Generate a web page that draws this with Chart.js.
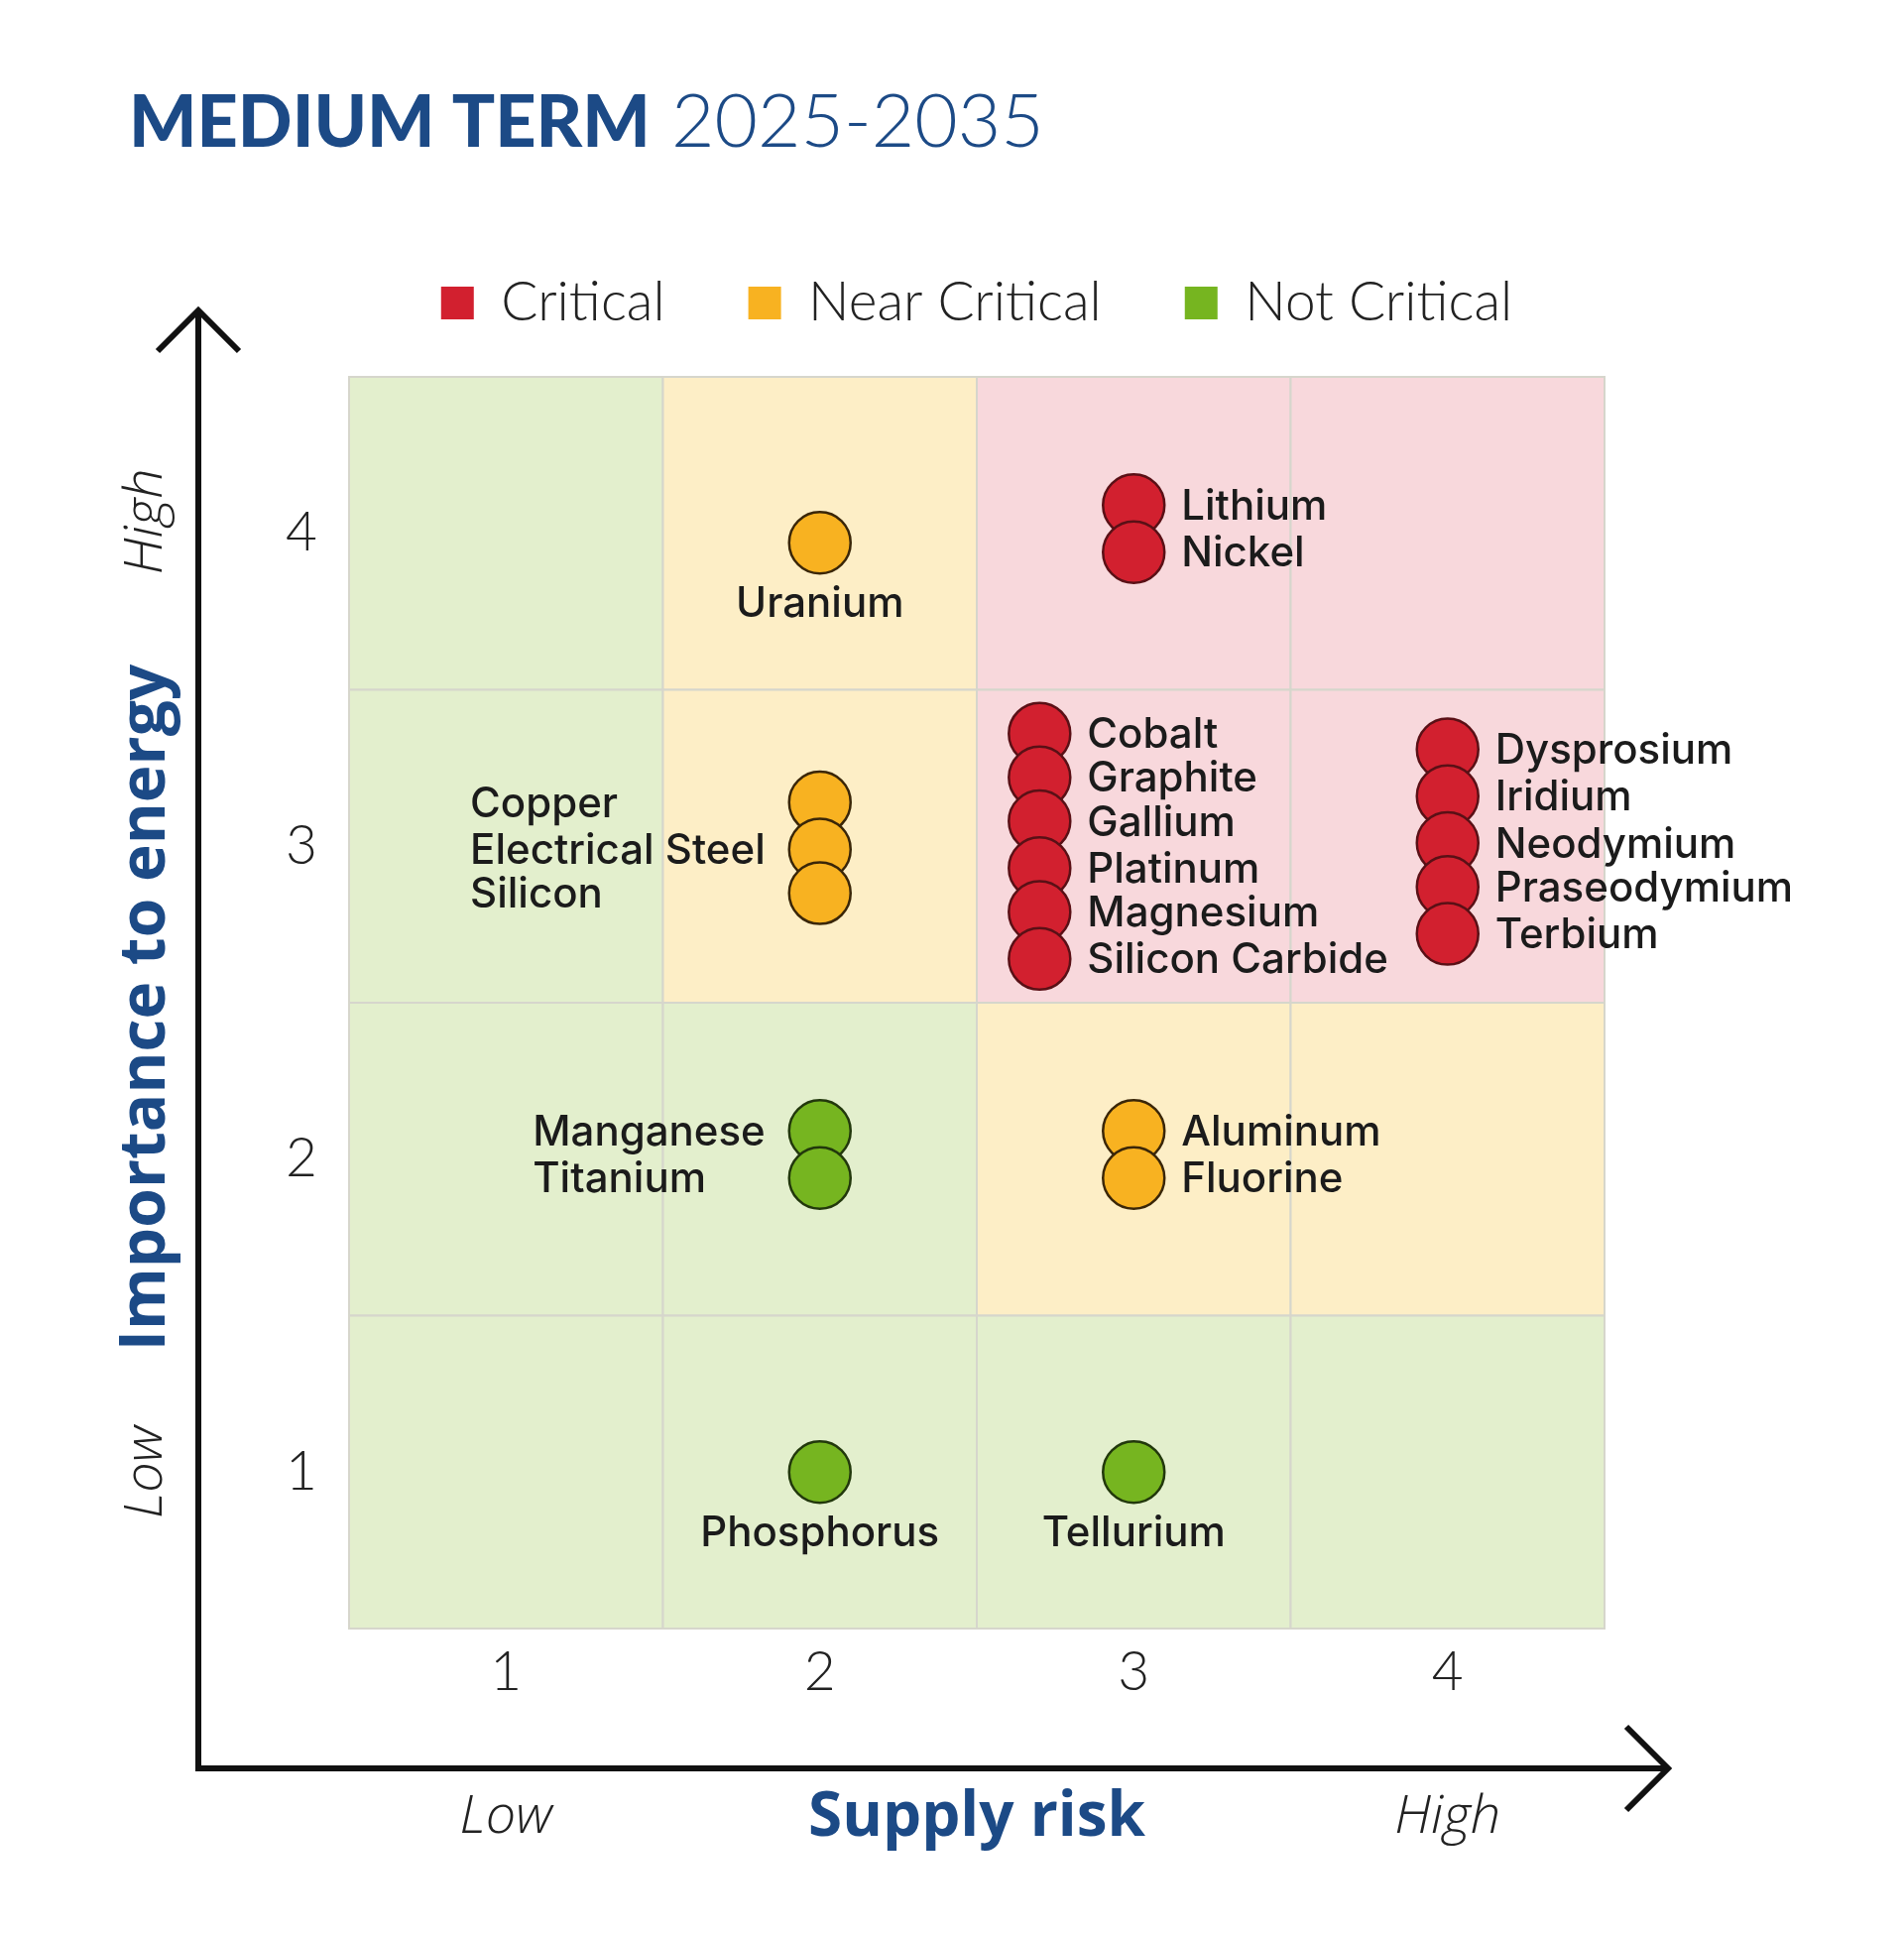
<!DOCTYPE html>
<html>
<head>
<meta charset="utf-8">
<title>Medium term 2025-2035</title>
<script src="https://cdn.jsdelivr.net/npm/chart.js@4.4.1/dist/chart.umd.min.js"></script>
<style>
  html, body { margin: 0; background: #fff; }
  #wrap { width: 1920px; height: 1952px; position: relative; }
</style>
</head>
<body>
<div id="wrap"><canvas id="matrix"></canvas></div>
<script>
// ---- data ----
const categories = ['Critical', 'Near Critical', 'Not Critical'];
const riskTicks = [1, 2, 3, 4];
const importanceTicks = [1, 2, 3, 4];

const criticalNames = ['Lithium', 'Nickel', 'Cobalt', 'Graphite', 'Gallium', 'Platinum', 'Magnesium',
  'Silicon Carbide', 'Dysprosium', 'Iridium', 'Neodymium', 'Praseodymium', 'Terbium'];
const criticalRisk = [3, 3, 2.7, 2.7, 2.7, 2.7, 2.7, 2.7, 4, 4, 4, 4, 4];
const criticalImportance = [4.09, 3.94, 3.36, 3.22, 3.08, 2.93, 2.79, 2.64, 3.31, 3.16, 3.01, 2.87, 2.72];

const nearNames = ['Uranium', 'Copper', 'Electrical Steel', 'Silicon', 'Aluminum', 'Fluorine'];
const nearRisk = [2, 2, 2, 2, 3, 3];
const nearImportance = [3.97, 3.14, 2.99, 2.85, 2.09, 1.94];

const notNames = ['Manganese', 'Titanium', 'Phosphorus', 'Tellurium'];
const notRisk = [2, 2, 2, 3];
const notImportance = [2.09, 1.94, 1, 1];

// category index of each cell, rows = importance 4 -> 1, columns = supply risk 1 -> 4
const cellCategory = [
  [2, 1, 0, 0],
  [2, 1, 0, 0],
  [2, 2, 1, 1],
  [2, 2, 2, 2]
];

// ---- styling ----
const fills = ['#d2202f', '#f8b221', '#76b520'];
const borders = ['#5a1016', '#3a2608', '#22380c'];
const cellFills = ['#f8d8dc', '#fdeec6', '#e3efcd'];
const navy = '#1c4a86';

const labelSide = {
  'Uranium': 'below', 'Phosphorus': 'below', 'Tellurium': 'below',
  'Copper': 'left', 'Electrical Steel': 'left', 'Silicon': 'left',
  'Manganese': 'left', 'Titanium': 'left'
};

function points(names, risk, importance) {
  return names.map((n, i) => ({ x: risk[i], y: importance[i], name: n }));
}

// coloured quadrant cells behind the dots
const cells = {
  id: 'cells',
  beforeDatasetsDraw(chart) {
    const { ctx, scales: { x, y } } = chart;
    ctx.save();
    cellCategory.forEach((row, r) => {
      const imp = importanceTicks[importanceTicks.length - 1 - r];
      row.forEach((c, col) => {
        const risk = riskTicks[col];
        const x0 = x.getPixelForValue(risk - 0.5), x1 = x.getPixelForValue(risk + 0.5);
        const y0 = y.getPixelForValue(imp + 0.5), y1 = y.getPixelForValue(imp - 0.5);
        ctx.fillStyle = cellFills[c];
        ctx.fillRect(x0, y0, x1 - x0, y1 - y0);
        ctx.strokeStyle = '#d6d6cc';
        ctx.lineWidth = 2;
        ctx.strokeRect(x0, y0, x1 - x0, y1 - y0);
      });
    });
    ctx.restore();
  }
};

// arrows, axis words and the page title
const decorations = {
  id: 'decorations',
  afterDraw(chart) {
    const { ctx, chartArea: a, scales: { x, y } } = chart;
    ctx.save();
    // title
    ctx.textBaseline = 'alphabetic';
    ctx.textAlign = 'left';
    ctx.fillStyle = navy;
    ctx.font = '900 72px Lato';
    const t1 = 'MEDIUM TERM ';
    ctx.fillText(t1, 130, 148);
    const w1 = ctx.measureText(t1).width;
    ctx.font = '300 75px Lato';
    ctx.fillText('2025-2035', 130 + w1 + 4, 148);

    // axes with open arrow heads
    const ax = a.left - 152, ay = a.bottom + 141;
    const topY = a.top - 67, rightX = a.right + 64;
    ctx.strokeStyle = '#111';
    ctx.lineWidth = 6;
    ctx.lineCap = 'butt';
    ctx.beginPath();
    ctx.moveTo(ax, topY + 3);
    ctx.lineTo(ax, ay);
    ctx.lineTo(rightX - 3, ay);
    ctx.stroke();
    ctx.lineJoin = 'miter';
    ctx.beginPath();
    ctx.moveTo(ax - 41, topY + 41);
    ctx.lineTo(ax, topY);
    ctx.lineTo(ax + 41, topY + 41);
    ctx.stroke();
    ctx.beginPath();
    ctx.moveTo(rightX - 42, ay - 42);
    ctx.lineTo(rightX, ay);
    ctx.lineTo(rightX - 42, ay + 42);
    ctx.stroke();

    // x axis words
    const wordY = a.bottom + 191;
    ctx.textBaseline = 'middle';
    ctx.textAlign = 'center';
    ctx.fillStyle = '#222';
    ctx.font = 'italic 300 54px "Open Sans"';
    ctx.fillText('Low', x.getPixelForValue(riskTicks[0]), wordY);
    ctx.fillText('High', x.getPixelForValue(riskTicks[riskTicks.length - 1]), wordY);
    ctx.fillStyle = navy;
    ctx.font = '700 62px "Open Sans"';
    ctx.fillText('Supply risk', (a.left + a.right) / 2, wordY);

    // y axis words (rotated)
    const wordX = a.left - 204;
    ctx.translate(wordX, 0);
    ctx.rotate(-Math.PI / 2);
    ctx.fillStyle = '#222';
    ctx.font = 'italic 300 54px "Open Sans"';
    ctx.fillText('High', -y.getPixelForValue(importanceTicks[importanceTicks.length - 1]) + 12, 0);
    ctx.fillText('Low', -y.getPixelForValue(importanceTicks[0]), 0);
    ctx.fillStyle = navy;
    ctx.font = '700 64px "Open Sans"';
    ctx.fillText('Importance to energy', -(a.top + a.bottom) / 2 - 5, 0);
    ctx.restore();
  }
};

// names next to the dots
const pointLabels = {
  id: 'pointLabels',
  afterDatasetsDraw(chart) {
    const ctx = chart.ctx;
    ctx.save();
    ctx.font = '500 42px Inter';
    ctx.fillStyle = '#1b1b1b';
    ctx.textBaseline = 'middle';
    // left-hand labels of one stack share a left edge
    const leftWidth = {};
    chart.data.datasets.forEach((ds, d) => {
      ds.data.forEach(p => {
        if (labelSide[p.name] === 'left') {
          const key = d + ':' + p.x;
          leftWidth[key] = Math.max(leftWidth[key] || 0, ctx.measureText(p.name).width);
        }
      });
    });
    chart.data.datasets.forEach((ds, d) => {
      chart.getDatasetMeta(d).data.forEach((el, i) => {
        const p = ds.data[i];
        const side = labelSide[p.name] || 'right';
        if (side === 'below') {
          ctx.textAlign = 'center';
          ctx.fillText(p.name, el.x, el.y + 62);
        } else if (side === 'left') {
          ctx.textAlign = 'left';
          ctx.fillText(p.name, el.x - 55 - leftWidth[d + ':' + p.x], el.y + 2);
        } else {
          ctx.textAlign = 'left';
          ctx.fillText(p.name, el.x + 48, el.y + 2);
        }
      });
    });
    ctx.restore();
  }
};

const tickFont = { family: 'Lato', size: 55, weight: 300 };

new Chart(document.getElementById('matrix'), {
  type: 'scatter',
  data: {
    datasets: [
      { label: categories[0], data: points(criticalNames, criticalRisk, criticalImportance) },
      { label: categories[1], data: points(nearNames, nearRisk, nearImportance) },
      { label: categories[2], data: points(notNames, notRisk, notImportance) }
    ].map((ds, i) => Object.assign(ds, {
      backgroundColor: fills[i],
      borderColor: borders[i],
      borderWidth: 2.5,
      pointRadius: 31,
      pointHoverRadius: 31
    }))
  },
  options: {
    responsive: true,
    maintainAspectRatio: false,
    devicePixelRatio: 1,
    animation: false,
    events: [],
    layout: { padding: { top: 194, left: 0, right: 302, bottom: 0 } },
    scales: {
      x: {
        type: 'linear',
        position: 'bottom',
        min: 0.5,
        max: 4.5,
        afterBuildTicks: s => { s.ticks = riskTicks.map(v => ({ value: v })); },
        afterFit: s => { s.height = 310; },
        grid: { display: false, drawTicks: false },
        border: { display: false },
        ticks: { font: tickFont, color: '#222', padding: 11 }
      },
      y: {
        type: 'linear',
        position: 'left',
        min: 0.5,
        max: 4.5,
        afterBuildTicks: s => { s.ticks = importanceTicks.map(v => ({ value: v })); },
        afterFit: s => { s.width = 352; },
        grid: { display: false, drawTicks: false },
        border: { display: false },
        ticks: { font: tickFont, color: '#222', padding: 32 }
      },
      spacer: {
        type: 'linear',
        position: 'top',
        grid: { display: false },
        border: { display: false },
        ticks: { display: false },
        afterFit: s => { s.height = 37; }
      }
    },
    plugins: {
      tooltip: { enabled: false },
      legend: {
        position: 'top',
        fullSize: false,
        labels: {
          font: { family: 'Lato', size: 55, weight: 300 },
          color: '#222',
          boxWidth: 33,
          boxHeight: 33,
          padding: 84,
          generateLabels: chart => chart.data.datasets.map((ds, i) => ({
            text: ds.label,
            fillStyle: fills[i],
            strokeStyle: fills[i],
            lineWidth: 0,
            fontColor: '#222',
            datasetIndex: i
          }))
        }
      }
    }
  },
  plugins: [cells, pointLabels, decorations]
});
</script>
</body>
</html>
